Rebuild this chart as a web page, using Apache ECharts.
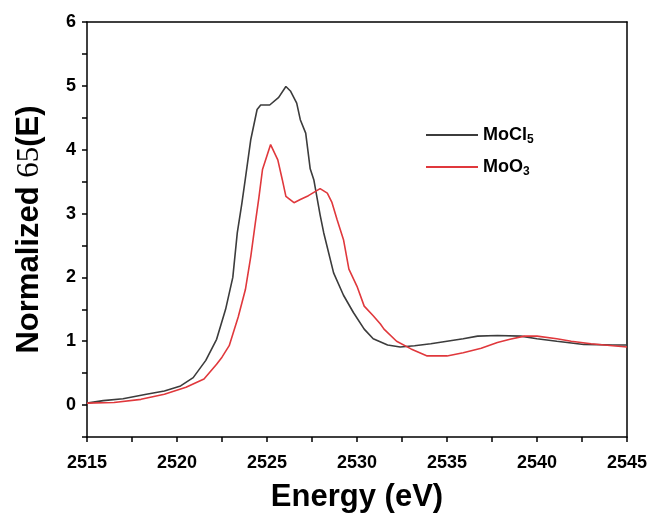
<!DOCTYPE html>
<html>
<head>
<meta charset="utf-8">
<script src="https://cdn.jsdelivr.net/npm/echarts@6/dist/echarts.min.js"></script>
<style>
  html, body { margin: 0; padding: 0; background: #fff; }
  #chart { width: 656px; height: 518px; }
</style>
</head>
<body>
<div id="chart"></div>
<script>
// MoCl5 curve (energy in eV, normalized value)
const mocl5Energy = [2515.0, 2515.9, 2517.0, 2518.3, 2519.3, 2520.2, 2520.9, 2521.6, 2522.2, 2522.7,
  2523.1, 2523.35, 2523.6, 2523.8, 2524.1, 2524.45, 2524.65, 2525.15, 2525.65, 2526.05,
  2526.3, 2526.65, 2526.85, 2527.15, 2527.4, 2527.6, 2527.95, 2528.15, 2528.7, 2529.25,
  2529.8, 2530.4, 2530.9, 2531.7, 2532.4, 2533.2, 2534.1, 2535.0, 2535.9, 2536.7,
  2537.8, 2539.1, 2540.0, 2541.1, 2542.6, 2544.2, 2545.0];
const mocl5Value = [0.03, 0.07, 0.10, 0.17, 0.22, 0.30, 0.43, 0.70, 1.03, 1.50,
  2.00, 2.70, 3.15, 3.55, 4.16, 4.63, 4.70, 4.70, 4.82, 4.99,
  4.92, 4.73, 4.47, 4.26, 3.70, 3.53, 2.98, 2.70, 2.07, 1.72,
  1.45, 1.19, 1.04, 0.94, 0.91, 0.93, 0.96, 1.00, 1.04, 1.08,
  1.09, 1.08, 1.04, 1.00, 0.95, 0.94, 0.94];

// MoO3 curve
const moo3Energy = [2515.0, 2516.5, 2518.0, 2519.3, 2520.5, 2521.5, 2522.2, 2522.5, 2522.9, 2523.4,
  2523.8, 2524.1, 2524.35, 2524.55, 2524.75, 2525.2, 2525.6, 2525.85, 2526.05, 2526.5,
  2526.85, 2527.3, 2527.95, 2528.35, 2528.6, 2528.9, 2529.25, 2529.55, 2530.0, 2530.4,
  2530.9, 2531.3, 2531.5, 2532.2, 2533.0, 2533.9, 2535.0, 2535.9, 2536.9, 2537.8,
  2538.5, 2539.3, 2540.0, 2541.1, 2541.9, 2543.0, 2544.2, 2545.0];
const moo3Value = [0.03, 0.04, 0.09, 0.17, 0.28, 0.41, 0.64, 0.75, 0.93, 1.38,
  1.81, 2.33, 2.85, 3.25, 3.69, 4.08, 3.84, 3.53, 3.27, 3.17,
  3.22, 3.28, 3.39, 3.32, 3.18, 2.90, 2.59, 2.13, 1.86, 1.55,
  1.40, 1.27, 1.19, 1.00, 0.88, 0.77, 0.77, 0.82, 0.89, 0.98,
  1.03, 1.08, 1.08, 1.04, 1.00, 0.96, 0.93, 0.91];

// tick labels
const xTicks = [2515, 2520, 2525, 2530, 2535, 2540, 2545];
const yTicks = [0, 1, 2, 3, 4, 5, 6];

const seriesNames = ['MoCl5', 'MoO3'];

const zip = (xs, ys) => xs.map((x, i) => [x, ys[i]]);

const chart = echarts.init(document.getElementById('chart'));

const font = 'Liberation Sans, Arial, sans-serif';

chart.setOption({
  animation: false,
  backgroundColor: '#ffffff',
  color: ['#3c3c3c', '#e0383c'],
  grid: {
    left: 87,
    right: 29,
    top: 22,
    bottom: 81
  },
  legend: {
    data: seriesNames,
    orient: 'vertical',
    left: 421,
    top: 121,
    itemWidth: 52,
    itemHeight: 2,
    itemGap: 12,
    icon: 'rect',
    formatter: function (name) {
      return name === 'MoCl5' ? '{b|MoCl}{s|5}' : '{b|MoO}{s|3}';
    },
    textStyle: {
      rich: {
        b: { fontFamily: font, fontWeight: 'bold', fontSize: 18, color: '#000' },
        s: { fontFamily: font, fontWeight: 'bold', fontSize: 12, color: '#000', padding: [10, 0, 0, 0] }
      }
    }
  },
  xAxis: [
    {
      type: 'value',
      min: 2515,
      max: 2545,
      interval: 2.5,
      name: 'Energy (eV)',
      nameLocation: 'middle',
      nameGap: 45,
      nameTextStyle: { fontFamily: font, fontWeight: 'bold', fontSize: 31, color: '#000' },
      axisLine: { show: true, onZero: false, lineStyle: { color: '#000', width: 1.5 } },
      axisTick: { show: true, length: 5, lineStyle: { color: '#000', width: 1.5 } },
      axisLabel: {
        customValues: xTicks,
        formatter: v => String(v),
        fontFamily: font, fontWeight: 'bold', fontSize: 18, color: '#000', margin: 17
      },
      splitLine: { show: false }
    },
    {
      type: 'value',
      position: 'top',
      min: 2515,
      max: 2545,
      axisLine: { show: true, onZero: false, lineStyle: { color: '#000', width: 1.5 } },
      axisTick: { show: false },
      axisLabel: { show: false },
      splitLine: { show: false }
    }
  ],
  yAxis: [
    {
      type: 'value',
      min: -0.5,
      max: 6,
      interval: 0.5,
      name: '{a|Normalized }{b|65}{a|(E)}',
      nameLocation: 'middle',
      nameGap: 42,
      nameRotate: 90,
      nameTextStyle: {
        rich: {
          a: { fontFamily: font, fontWeight: 'bold', fontSize: 31, color: '#000' },
          b: { fontFamily: 'Liberation Serif, Times New Roman, serif', fontWeight: 'normal', fontSize: 31, color: '#000' }
        }
      },
      axisLine: { show: true, onZero: false, lineStyle: { color: '#000', width: 1.5 } },
      axisTick: { show: true, length: 5, lineStyle: { color: '#000', width: 1.5 } },
      axisLabel: {
        customValues: yTicks,
        fontFamily: font, fontWeight: 'bold', fontSize: 18, color: '#000', margin: 11
      },
      splitLine: { show: false }
    },
    {
      type: 'value',
      position: 'right',
      min: -0.5,
      max: 6,
      axisLine: { show: true, onZero: false, lineStyle: { color: '#000', width: 1.5 } },
      axisTick: { show: false },
      axisLabel: { show: false },
      splitLine: { show: false }
    }
  ],
  series: [
    {
      name: seriesNames[0],
      type: 'line',
      data: zip(mocl5Energy, mocl5Value),
      showSymbol: false,
      lineStyle: { width: 1.6, color: '#3c3c3c' },
      itemStyle: { color: '#3c3c3c' }
    },
    {
      name: seriesNames[1],
      type: 'line',
      data: zip(moo3Energy, moo3Value),
      showSymbol: false,
      lineStyle: { width: 1.6, color: '#e0383c' },
      itemStyle: { color: '#e0383c' }
    }
  ]
});
</script>
</body>
</html>
